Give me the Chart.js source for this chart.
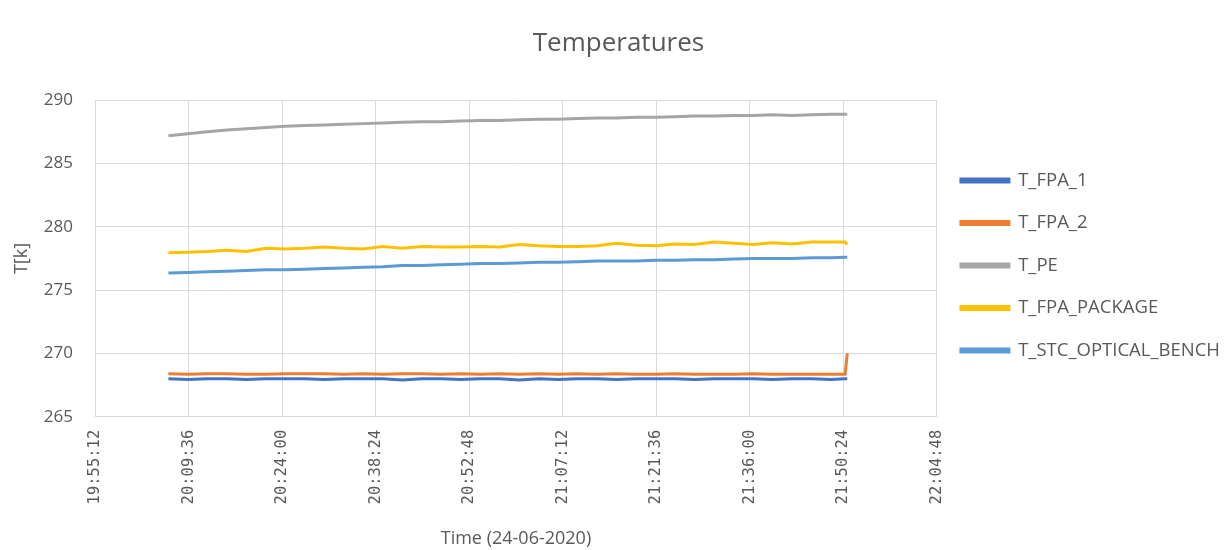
<!DOCTYPE html>
<html>
<head>
<meta charset="utf-8">
<script src="https://cdn.jsdelivr.net/npm/chart.js@4/dist/chart.umd.min.js"></script>
<style>
  html, body { margin: 0; padding: 0; background: #fff; }
  #wrap { width: 1230px; height: 550px; position: relative; }
</style>
</head>
<body>
<div id="wrap"><canvas id="tempChart"></canvas></div>
<script>
// sample times (24-06-2020)
const times = [
    '20:06:30', '20:09:30', '20:12:30', '20:15:30', '20:18:30', '20:21:30', '20:24:30',
    '20:27:30', '20:30:30', '20:33:30', '20:36:30', '20:39:30', '20:42:30', '20:45:30',
    '20:48:30', '20:51:30', '20:54:30', '20:57:30', '21:00:30', '21:03:30', '21:06:30',
    '21:09:30', '21:12:30', '21:15:30', '21:18:30', '21:21:30', '21:24:30', '21:27:30',
    '21:30:30', '21:33:30', '21:36:30', '21:39:30', '21:42:30', '21:45:30', '21:48:30',
    '21:50:40', '21:51:00'
];

const tFpa1 = [
    268.0, 267.95, 268.0, 268.0, 267.95, 268.0, 268.0,
    268.0, 267.95, 268.0, 268.0, 268.0, 267.9, 268.0,
    268.0, 267.95, 268.0, 268.0, 267.9, 268.0, 267.95,
    268.0, 268.0, 267.95, 268.0, 268.0, 268.0, 267.95,
    268.0, 268.0, 268.0, 267.95, 268.0, 268.0, 267.95,
    268.0, 268.0
];

const tFpa2 = [
    268.4, 268.35, 268.4, 268.4, 268.35, 268.35, 268.4,
    268.4, 268.4, 268.35, 268.4, 268.35, 268.4, 268.4,
    268.35, 268.4, 268.35, 268.4, 268.35, 268.4, 268.35,
    268.4, 268.35, 268.4, 268.35, 268.35, 268.4, 268.35,
    268.35, 268.35, 268.4, 268.35, 268.35, 268.35, 268.35,
    268.35, 270.0
];

const tPe = [
    287.2, 287.35, 287.5, 287.65, 287.75, 287.85, 287.95,
    288.0, 288.05, 288.1, 288.15, 288.2, 288.25, 288.3,
    288.3, 288.35, 288.4, 288.4, 288.45, 288.5, 288.5,
    288.55, 288.6, 288.6, 288.65, 288.65, 288.7, 288.75,
    288.75, 288.8, 288.8, 288.85, 288.8, 288.85, 288.9,
    288.9, 288.9
];

const tFpaPackage = [
    277.95, 278.0, 278.05, 278.15, 278.05, 278.3, 278.25,
    278.3, 278.4, 278.3, 278.25, 278.45, 278.3, 278.45,
    278.4, 278.4, 278.45, 278.4, 278.6, 278.5, 278.45,
    278.45, 278.5, 278.7, 278.55, 278.5, 278.65, 278.6,
    278.8, 278.7, 278.6, 278.75, 278.65, 278.8, 278.8,
    278.8, 278.6
];

const tStcBench = [
    276.35, 276.4, 276.45, 276.5, 276.55, 276.6, 276.6,
    276.65, 276.7, 276.75, 276.8, 276.85, 276.95, 276.95,
    277.0, 277.05, 277.1, 277.1, 277.15, 277.2, 277.2,
    277.25, 277.3, 277.3, 277.3, 277.35, 277.35, 277.4,
    277.4, 277.45, 277.5, 277.5, 277.5, 277.55, 277.55,
    277.6, 277.6
];

const xTickMin = '19:55:12';
const xTickMax = '22:04:48';
const xTickStep = '00:14:24';

const toSec = s => {
    const p = s.split(':').map(Number);
    return p[0] * 3600 + p[1] * 60 + p[2];
};
const fmtTime = v => {
    const h = Math.floor(v / 3600);
    const m = Math.floor((v % 3600) / 60);
    const s = Math.round(v % 60);
    return h + ':' + String(m).padStart(2, '0') + ':' + String(s).padStart(2, '0');
};
const pts = vals => vals.map((v, i) => ({ x: toSec(times[i]), y: v }));

const textColor = '#595959';
const gridColor = '#d9d9d9';

// order: lower draws on top, so FPA_2 ends up over FPA_1 like in Excel
const series = [
    { label: 'T_FPA_1', data: tFpa1, color: '#4472c4', order: 5 },
    { label: 'T_FPA_2', data: tFpa2, color: '#ed7d31', order: 4 },
    { label: 'T_PE', data: tPe, color: '#a5a5a5', order: 3 },
    { label: 'T_FPA_PACKAGE', data: tFpaPackage, color: '#ffc000', order: 2 },
    { label: 'T_STC_OPTICAL_BENCH', data: tStcBench, color: '#5b9bd5', order: 1 }
];

const ctx = document.getElementById('tempChart').getContext('2d');
new Chart(ctx, {
    type: 'line',
    data: {
        datasets: series.map(s => ({
            label: s.label,
            data: pts(s.data),
            borderColor: s.color,
            backgroundColor: s.color,
            borderWidth: 3,
            pointRadius: 0,
            tension: 0,
            fill: false,
            order: s.order
        }))
    },
    options: {
        responsive: true,
        maintainAspectRatio: false,
        animation: false,
        layout: {
            padding: { left: 7, right: 0, top: 22, bottom: 0 }
        },
        plugins: {
            title: {
                display: true,
                text: 'Temperatures',
                color: textColor,
                font: { family: 'Open Sans', size: 26, weight: 'normal' },
                padding: { top: 6, bottom: 41 }
            },
            legend: {
                position: 'right',
                align: 'start',
                title: {
                    display: true,
                    text: ' ',
                    font: { size: 1 },
                    padding: { top: 124, bottom: 0 }
                },
                labels: {
                    color: textColor,
                    font: { family: 'Open Sans', size: 18.5 },
                    boxWidth: 48,
                    boxHeight: 3,
                    padding: 24,
                    sort: (a, b) => a.datasetIndex - b.datasetIndex
                }
            },
            tooltip: { enabled: false }
        },
        scales: {
            x: {
                type: 'linear',
                min: toSec(xTickMin),
                max: toSec(xTickMax),
                grid: { color: gridColor, drawTicks: false },
                border: { color: gridColor },
                ticks: {
                    stepSize: toSec(xTickStep),
                    minRotation: 90,
                    maxRotation: 90,
                    padding: 13,
                    color: textColor,
                    font: { family: 'DejaVu Sans Mono', size: 15.5 },
                    callback: v => fmtTime(v)
                },
                title: {
                    display: true,
                    text: 'Time (24-06-2020)',
                    color: textColor,
                    font: { family: 'Open Sans', size: 18 },
                    padding: { top: 11, bottom: 0 }
                }
            },
            y: {
                min: 265,
                max: 290,
                grid: { color: gridColor, drawTicks: false },
                border: { color: gridColor },
                afterFit: scale => { scale.width = 88; },
                ticks: {
                    stepSize: 5,
                    color: textColor,
                    font: { family: 'Open Sans', size: 17 },
                    padding: 22
                },
                title: {
                    display: true,
                    text: 'T[k]',
                    color: textColor,
                    font: { family: 'Open Sans', size: 18 },
                    padding: { top: 4, bottom: 4 }
                }
            }
        }
    }
});
</script>
</body>
</html>
